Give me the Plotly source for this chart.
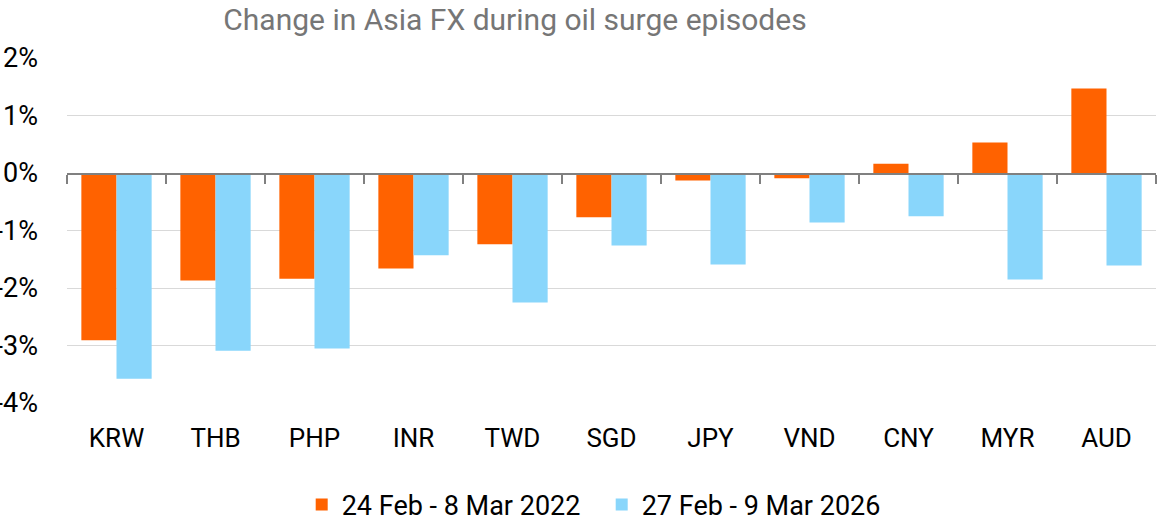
import plotly.graph_objects as go

categories = ["KRW", "THB", "PHP", "INR", "TWD", "SGD", "JPY", "VND", "CNY", "MYR", "AUD"]
series_2022 = [-2.91, -1.87, -1.84, -1.66, -1.24, -0.77, -0.13, -0.09, 0.16, 0.53, 1.47]
series_2026 = [-3.58, -3.09, -3.05, -1.43, -2.25, -1.26, -1.59, -0.86, -0.75, -1.85, -1.61]
name_2022 = "24 Feb - 8 Mar 2022"
name_2026 = "27 Feb - 9 Mar 2026"
title_text = "Change in Asia FX during oil surge episodes"
y_ticks = [2, 1, 0, -1, -2, -3, -4]
y_tick_labels = ["2%", "1%", "0%", "-1%", "-2%", "-3%", "-4%"]
y_range = [-4, 2]

FONT = "Roboto"
ORANGE = "#FF6200"
BLUE = "#89D6FB"
AXIS_GREY = "#808080"

fig = go.Figure()
fig.add_trace(go.Bar(x=categories, y=series_2022, name=name_2022,
                     marker=dict(color=ORANGE, line=dict(width=0))))
fig.add_trace(go.Bar(x=categories, y=series_2026, name=name_2026,
                     marker=dict(color=BLUE, line=dict(width=0))))
# invisible helper traces: one for the zero-level axis (x anchored to y2),
# one carrying the category labels on the bottom axis (x2)
zeros = [0] * len(categories)
fig.add_trace(go.Scatter(x=categories, y=zeros, xaxis="x", yaxis="y2",
                         mode="markers", marker=dict(opacity=0),
                         showlegend=False, hoverinfo="skip"))
fig.add_trace(go.Scatter(x=categories, y=zeros, xaxis="x2", yaxis="y",
                         mode="markers", marker=dict(opacity=0),
                         showlegend=False, hoverinfo="skip"))

# category-boundary tick marks hanging below the zero line (axis decoration)
for i in range(len(categories) + 1):
    fig.add_shape(type="line", xref="x", yref="y", x0=i - 0.5, x1=i - 0.5,
                  ysizemode="pixel", yanchor=0, y0=0, y1=-9,
                  line=dict(color=AXIS_GREY, width=1.6), layer="above")

xrange = [-0.5, len(categories) - 0.5]
zero_frac = (0 - y_range[0]) / (y_range[1] - y_range[0])
fig.update_layout(
    width=1164, height=526,
    margin=dict(l=67, r=8, t=58, b=123),
    paper_bgcolor="white", plot_bgcolor="rgba(0,0,0,0)",
    font=dict(family=FONT, color="#000000", size=26),
    title=dict(text=title_text, x=0.4424, xanchor="center", y=0.962, yanchor="middle",
               font=dict(family=FONT, size=30, color="#767676")),
    barmode="group", bargap=0.29, bargroupgap=0,
    showlegend=True,
    legend=dict(orientation="h", x=0.491, xanchor="center",
                yref="container", y=0.04, yanchor="middle",
                font=dict(size=27, color="#000000"), itemwidth=30, entrywidth=255,
                traceorder="normal"),
    # main x axis sits at the zero level (bottom of the hidden y2 domain)
    xaxis=dict(type="category", anchor="y2", side="bottom",
               range=xrange, categoryorder="array", categoryarray=categories,
               showline=True, linecolor=AXIS_GREY, linewidth=1.5,
               ticks="outside", tickson="boundaries", ticklen=9, tickwidth=1.6,
               tickcolor=AXIS_GREY, showticklabels=False,
               showgrid=False, zeroline=False, automargin=False),
    # overlay axis at the bottom: category labels only
    xaxis2=dict(type="category", overlaying="x", anchor="y", side="bottom",
                range=xrange, categoryorder="array", categoryarray=categories,
                showline=False, ticks="", showgrid=False, zeroline=False,
                tickfont=dict(size=26, color="#000000"), ticklabelstandoff=17,
                automargin=False),
    yaxis=dict(range=y_range, tickvals=y_ticks, ticktext=y_tick_labels,
               domain=[0, 1],
               showgrid=True, gridcolor="#d9d9d9", gridwidth=1.2,
               zeroline=False, showline=False, ticks="",
               tickfont=dict(size=27, color="#000000"), ticklabelstandoff=28,
               automargin=False),
    yaxis2=dict(domain=[zero_frac, 1], range=[0, y_range[1]], anchor="x",
                visible=False, showgrid=False, zeroline=False),
)

fig.write_html("out.html", config=dict(displayModeBar=False),
               post_script="document.body.style.margin='0px';")
